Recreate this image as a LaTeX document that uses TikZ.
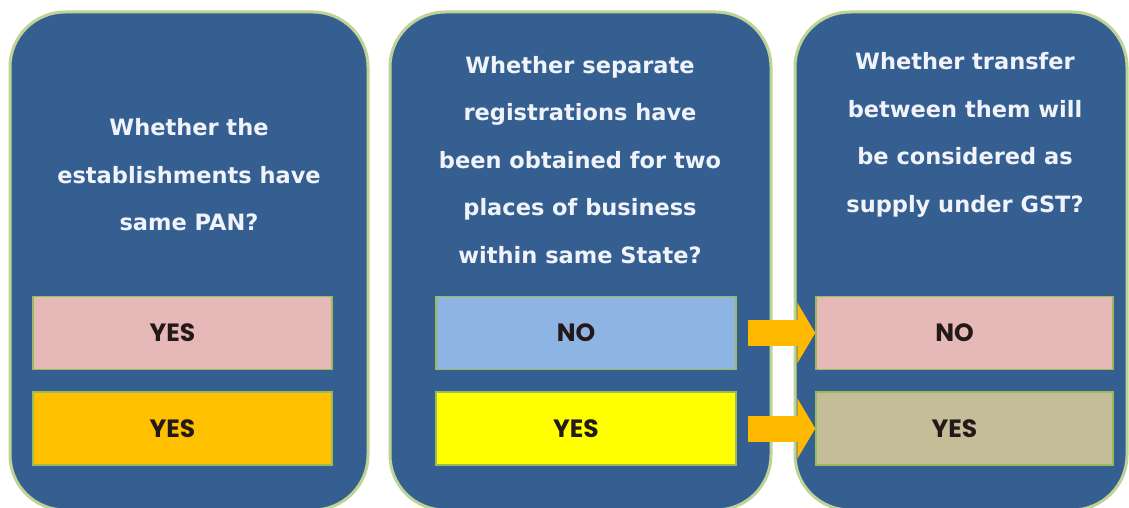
\documentclass[tikz,border=0pt]{standalone}
\usepackage{fontspec}
\setmainfont{DejaVu Sans}
\newfontfamily\qfont{DejaVu Sans}
\newfontfamily\afont{Poppins}
\usetikzlibrary{arrows.meta}
\definecolor{panelblue}{RGB}{54,95,145}
\definecolor{panelline}{RGB}{190,212,150}
\definecolor{rectline}{RGB}{155,187,89}
\definecolor{pinkfill}{RGB}{230,185,184}
\definecolor{orangefill}{RGB}{255,192,0}
\definecolor{lightbluefill}{RGB}{142,180,227}
\definecolor{yellowfill}{RGB}{255,255,0}
\definecolor{tanfill}{RGB}{196,189,151}
\definecolor{arroworange}{RGB}{255,185,0}
\definecolor{qtext}{RGB}{240,244,250}
\definecolor{atext}{RGB}{35,25,25}
\newcommand{\ansshift}{\kern-20pt}
\tikzset{
  panel/.style={draw=panelline, line width=3pt, fill=panelblue, rounded corners=55pt},
  question/.style={text=qtext, align=center, font=\qfont\bfseries\fontsize{22.5}{47.5}\selectfont, inner sep=0pt},
  answer/.style={draw=rectline, line width=1.5pt, minimum height=73pt, inner sep=0pt, text=atext, font=\afont\bfseries\fontsize{25}{26}\selectfont},
  blockarrow/.style={line width=26pt, color=arroworange, -{Triangle[width=60pt,length=18pt]}, shorten <=11pt}
}
\begin{document}
\begin{tikzpicture}[x=1pt,y=-1pt]
\useasboundingbox (0,0) rectangle (1129,508);
\clip (0,0) rectangle (1129,508);
\fill[white] (0,0) rectangle (1129,508);
% panels
\path[panel] (10,12) rectangle (368,510);
\path[panel] (390,12) rectangle (771,510);
\path[panel] (795,12) rectangle (1127,510);
% questions
\node[question] (q1) at (189,175) {Whether the\\establishments have\\same PAN?};
\node[question] (q2) at (580,160) {Whether separate\\registrations have\\been obtained for two\\places of business\\within same State?};
\node[question] (q3) at (965,135) {Whether transfer\\between them will\\be considered as\\supply under GST?};
% answers
\node[answer, fill=pinkfill, minimum width=299pt] (a1) at (182.5,333) {\ansshift YES};
\node[answer, fill=orangefill, minimum width=299pt] (b1) at (182.5,428.5) {\ansshift YES};
\node[answer, fill=lightbluefill, minimum width=300pt] (a2) at (586,333) {\ansshift NO};
\node[answer, fill=yellowfill, minimum width=300pt] (b2) at (586,428.5) {\ansshift YES};
\node[answer, fill=pinkfill, minimum width=297pt] (a3) at (964.5,333) {\ansshift NO};
\node[answer, fill=tanfill, minimum width=297pt] (b3) at (964.5,428.5) {\ansshift YES};
% arrows
\draw[blockarrow] (a2.east) -- (a3.west);
\draw[blockarrow] (b2.east) -- (b3.west);
\end{tikzpicture}
\end{document}
